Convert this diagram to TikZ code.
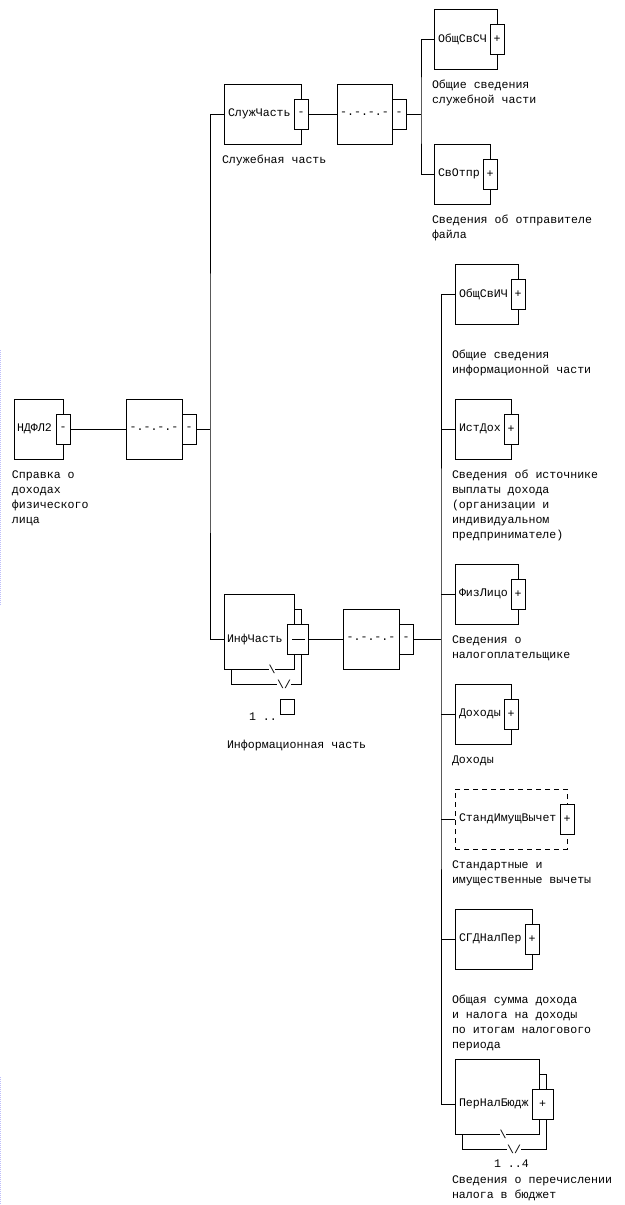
\documentclass[tikz,border=0pt]{standalone}
\usepackage{fontspec}
\newfontfamily\monof{Liberation Mono}
\newcommand\txtfont{\monof\fontsize{11.6}{15}\selectfont}
\begin{document}
\begin{tikzpicture}[x=1pt,y=-1pt,
  every node/.style={font=\txtfont, inner sep=0pt, outer sep=0pt},
  ln/.style={line width=1pt},
  rect/.style n args={4}{minimum width={#3-#1}, minimum height={#4-#2}, at={({(#1+#3)/2},{(#2+#4)/2})}},
  box/.style={draw, line width=1pt, fill=white, rectangle},
  dbox/.style={box, dash pattern=on 5pt off 4pt},
  tab/.style={box},
  lab/.style={anchor=base west, align=left},
  brk/.style={fill=white, inner xsep=0pt, inner ysep=0.5pt}
]
\fill[white] (0,0) rectangle (624,1205);
\useasboundingbox (0,0) rectangle (624,1205);
\draw[line width=1pt, color={rgb,255:red,190;green,190;blue,250}, dash pattern=on 1pt off 1pt] (0.5,350) -- (0.5,605) (0.5,1077) -- (0.5,1205);

% root
\node[box, rect={14}{399}{63}{459}] (ndfl) {};
\node[tab, rect={56}{414}{70}{444}] (ndflT) {-};
\node[anchor=west] (ndflN) at (17,429) {НДФЛ2};
\node[lab] (ndflL) at (12,523) {Справка о\\доходах\\физического\\лица};

\node[box, rect={126}{399}{182}{459}] (seq1) {-.-.-.-};
\node[tab, rect={182}{414}{196}{444}] (seq1T) {-};

% service part
\node[box, rect={224}{84}{301}{144}] (sluzh) {};
\node[tab, rect={294}{99}{308}{129}] (sluzhT) {-};
\node[anchor=west] (sluzhN) at (228,114) {СлужЧасть};
\node[lab] (sluzhL) at (222,163) {Служебная часть};

\node[box, rect={337}{84}{392}{144}] (seq2) {-.-.-.-};
\node[tab, rect={392}{99}{406}{129}] (seq2T) {-};

\node[box, rect={434}{9}{497}{69}] (obsc) {};
\node[tab, rect={490}{24}{504}{54}] (obscT) {+};
\node[anchor=west] (obscN) at (438,39) {ОбщСвСЧ};
\node[lab] (obscL) at (432,103) {Общие сведения\\служебной части};

\node[box, rect={434}{144}{490}{204}] (svot) {};
\node[tab, rect={483}{159}{497}{189}] (svotT) {+};
\node[anchor=west] (svotN) at (438,174) {СвОтпр};
\node[lab] (svotL) at (432,238) {Сведения об отправителе\\файла};

% information part
\node[box, rect={231}{609}{301}{684}] (infB) {};
\node[box, rect={224}{594}{294}{669}] (inf) {};
\node[tab, rect={287}{624}{308}{654}] (infT) {};
\draw[ln] ([xshift=5pt]infT.west) -- ([xshift=-3pt]infT.east);
\node[anchor=west] (infN) at (227,639) {ИнфЧасть};
\node[brk] (infS1) at (272,669) {\textbackslash};
\node[brk] (infS2) at (284,684) {\textbackslash/};
\node[box, rect={280}{699}{294}{714}] (infM) {};
\node[anchor=base west] (infC) at (249,720) {1 ..};
\node[lab] (infL) at (227,748) {Информационная часть};

\node[box, rect={343}{609}{399}{669}] (seq3) {-.-.-.-};
\node[tab, rect={399}{624}{413}{654}] (seq3T) {-};

\node[box, rect={455}{264}{518}{324}] (obic) {};
\node[tab, rect={511}{279}{525}{309}] (obicT) {+};
\node[anchor=west] (obicN) at (459,294) {ОбщСвИЧ};
\node[lab] (obicL) at (452,373) {Общие сведения\\информационной части};

\node[box, rect={455}{399}{511}{459}] (istd) {};
\node[tab, rect={504}{414}{518}{444}] (istdT) {+};
\node[anchor=west] (istdN) at (459,429) {ИстДох};
\node[lab] (istdL) at (452,538) {Сведения об источнике\\выплаты дохода\\(организации и\\индивидуальном\\предпринимателе)};

\node[box, rect={455}{564}{518}{624}] (fizl) {};
\node[tab, rect={511}{579}{525}{609}] (fizlT) {+};
\node[anchor=west] (fizlN) at (459,594) {ФизЛицо};
\node[lab] (fizlL) at (452,658) {Сведения о\\налогоплательщике};

\node[box, rect={455}{684}{511}{744}] (doh) {};
\node[tab, rect={504}{699}{518}{729}] (dohT) {+};
\node[anchor=west] (dohN) at (459,714) {Доходы};
\node[lab] (dohL) at (452,763) {Доходы};

\node[dbox, rect={455}{789}{567}{849}] (stand) {};
\node[tab, rect={560}{804}{574}{834}] (standT) {+};
\node[anchor=west] (standN) at (459,819) {СтандИмущВычет};
\node[lab] (standL) at (452,883) {Стандартные и\\имущественные вычеты};

\node[box, rect={455}{909}{532}{969}] (sgd) {};
\node[tab, rect={525}{924}{539}{954}] (sgdT) {+};
\node[anchor=west] (sgdN) at (459,939) {СГДНалПер};
\node[lab] (sgdL) at (452,1048) {Общая сумма дохода\\и налога на доходы\\по итогам налогового\\периода};

\node[box, rect={462}{1074}{546}{1149}] (pnbB) {};
\node[box, rect={455}{1059}{539}{1134}] (pnb) {};
\node[tab, rect={532}{1089}{553}{1119}] (pnbT) {+};
\node[anchor=west] (pnbN) at (459,1104) {ПерНалБюдж};
\node[brk] (pnbS1) at (503,1134) {\textbackslash};
\node[brk] (pnbS2) at (514,1149) {\textbackslash/};
\node[anchor=base west] (pnbC) at (494,1167) {1 ..4};
\node[lab] (pnbL) at (452,1198) {Сведения о перечислении\\налога в бюджет};

% connectors
\coordinate (b1) at (210,429);
\coordinate (infIn) at (224,639);
\draw[ln] (ndflT.east) -- (seq1.west);
\draw[ln] (seq1T.east) -- (b1);
\draw[ln] (sluzh.west) -| (b1) |- (infIn);
\draw[ln] (sluzhT.east) -- (seq2.west);
\coordinate (b2) at (421,114);
\draw[ln] (seq2T.east) -- (b2);
\draw[ln] (obsc.west) -| (b2) |- (svot.west);
\draw[ln] (infT.east) -- (seq3.west);
\coordinate (b3) at (441,639);
\coordinate (pnbIn) at (455,1104);
\draw[ln] (seq3T.east) -- (b3);
\draw[ln] (obic.west) -| (b3) |- (pnbIn);
\foreach \n in {istd,fizl,doh,stand,sgd} \draw[ln] (\n.west) -- (b3 |- \n.west);
\end{tikzpicture}
\end{document}
